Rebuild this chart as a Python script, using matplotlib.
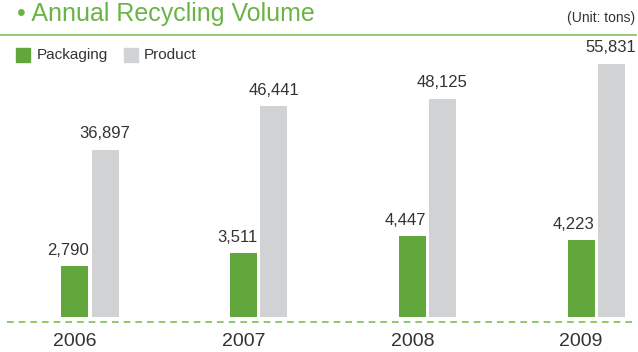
import numpy as np
import matplotlib.pyplot as plt
from matplotlib.patches import Rectangle
from matplotlib.lines import Line2D
import matplotlib.transforms as mtransforms

years = ['2006', '2007', '2008', '2009']
packaging = [2790, 3511, 4447, 4223]
product = [36897, 46441, 48125, 55831]

green = '#62a73b'
grey = '#d1d2d4'
title_green = '#6ab446'
text_col = '#333333'
plt.rcParams['font.family'] = ['Liberation Sans Narrow', 'Liberation Sans', 'DejaVu Sans']

W, H = 638, 352
fig = plt.figure(figsize=(W / 100, H / 100), dpi=100)

def fx(px):
    return px / W

def fy(py):
    return 1 - py / H

# two value axes sharing x, each series on its own scale
ax = fig.add_axes([0, fy(317), 1, (317 - 60) / H])
ax2 = ax.twinx()
for a in (ax, ax2):
    a.set_xlim(-0.5335, 3.248)
    a.axis('off')
ax.set_ylim(0, 14105)
ax2.set_ylim(0, 56630)

x = np.arange(len(years))
w = 0.16
off = 0.089
ax.bar(x - off, packaging, width=w, color=green)
ax2.bar(x + off, product, width=w, color=grey)

tr = mtransforms.blended_transform_factory(ax.transData, fig.transFigure)
for i in range(len(years)):
    ax.annotate(f'{packaging[i]:,}', (x[i] - off + w / 2, packaging[i]),
                xytext=(0, 6), textcoords='offset points',
                ha='right', va='bottom', fontsize=12, color=text_col)
    ax2.annotate(f'{product[i]:,}', (x[i] + off, product[i]),
                 xytext=(0, 6), textcoords='offset points',
                 ha='center', va='bottom', fontsize=12, color=text_col)
    ax.text(x[i] - off, fy(342), years[i], transform=tr, ha='center',
            va='center', fontsize=14, color=text_col)

# dashed baseline
fig.add_artist(Line2D([fx(7), fx(636)], [fy(322), fy(322)], color='#7cc050',
                      lw=1.2, ls=(0, (4, 3))))

# header
fig.text(fx(17), fy(14), '\u2022 Annual Recycling Volume', fontsize=18,
         color=title_green, ha='left', va='center')
fig.text(fx(635), fy(18), '(Unit: tons)', fontsize=10, color=text_col,
         ha='right', va='center')
fig.add_artist(Line2D([0, fx(636)], [fy(35), fy(35)], color='#8cc56a', lw=1.3))

# legend
fig.add_artist(Rectangle((fx(16), fy(62)), 14 / W, 14 / H, color=green,
                         transform=fig.transFigure))
fig.text(fx(37), fy(55), 'Packaging', fontsize=11, color=text_col,
         ha='left', va='center')
fig.add_artist(Rectangle((fx(124), fy(62)), 14 / W, 14 / H, color=grey,
                         transform=fig.transFigure))
fig.text(fx(144), fy(55), 'Product', fontsize=11, color=text_col,
         ha='left', va='center')

fig.savefig('out.png', dpi=100)
